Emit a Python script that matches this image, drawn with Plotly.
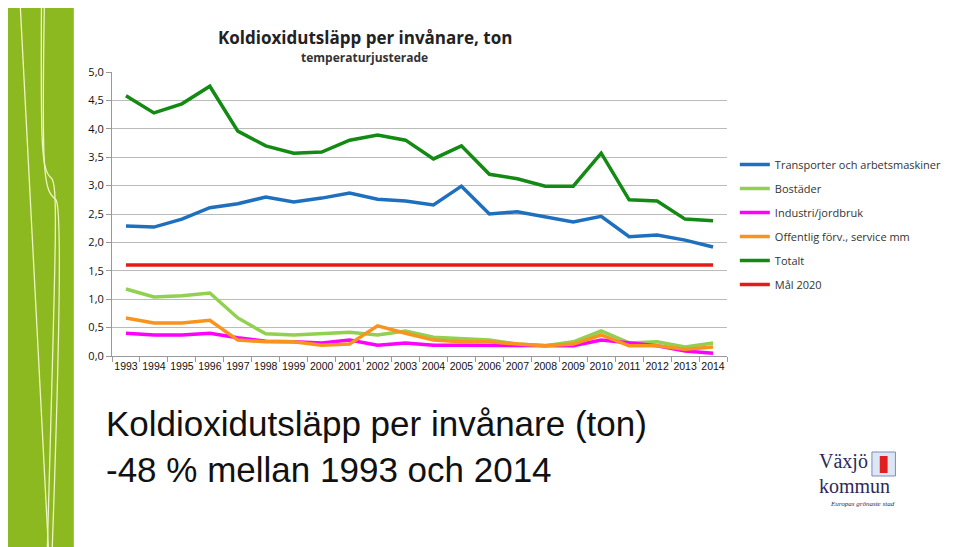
import plotly.graph_objects as go

years = [str(y) for y in range(1993, 2015)]
transport = [2.29,2.27,2.41,2.61,2.68,2.80,2.71,2.78,2.87,2.76,2.73,2.66,2.99,2.50,2.54,2.45,2.36,2.46,2.10,2.13,2.04,1.92]
bostader = [1.18,1.04,1.06,1.11,0.67,0.39,0.37,0.40,0.42,0.37,0.44,0.33,0.30,0.28,0.21,0.18,0.25,0.44,0.23,0.25,0.16,0.23]
industri = [0.40,0.37,0.37,0.40,0.32,0.26,0.25,0.23,0.28,0.19,0.23,0.19,0.19,0.19,0.18,0.18,0.18,0.28,0.23,0.18,0.09,0.05]
offentlig = [0.67,0.58,0.58,0.63,0.28,0.25,0.25,0.19,0.21,0.53,0.40,0.28,0.25,0.25,0.21,0.18,0.21,0.37,0.18,0.18,0.12,0.16]
totalt = [4.58,4.28,4.44,4.75,3.96,3.70,3.57,3.59,3.80,3.89,3.80,3.47,3.70,3.20,3.12,2.99,2.99,3.57,2.75,2.73,2.41,2.38]
mal2020 = [1.6]*len(years)

series = [
    ("Transporter och arbetsmaskiner", transport, "#1f6fbf"),
    ("Bostäder", bostader, "#92d050"),
    ("Industri/jordbruk", industri, "#ff00ff"),
    ("Offentlig förv., service mm", offentlig, "#f7941d"),
    ("Totalt", totalt, "#138a13"),
    ("Mål 2020", mal2020, "#e41b17"),
]

OFF = 8  # page body offset
L, R, T, B = 112, 740, 72, 356
W, H = 959 - OFF, 547 - OFF
def px(x): return (x - L) / (R - L)
def py(y): return (B - y) / (B - T)

fig = go.Figure()
for i, (name, vals, col) in enumerate(series):
    fig.add_trace(go.Scatter(x=years, y=vals, name=name, mode="lines", legendgroup=f"g{i}",
                             line=dict(color=col, width=3.5)))

fig.update_layout(
    width=W, height=H, paper_bgcolor="white", plot_bgcolor="white",
    margin=dict(l=L - OFF, r=W - (R - OFF), t=T - OFF, b=H - (B - OFF), pad=0),
    font=dict(family="Open Sans", color="#222"),
    showlegend=True,
    legend=dict(x=px(748), y=py(150), xanchor="left", yanchor="top", tracegroupgap=5,
                font=dict(size=11, color="#333"), itemwidth=30),
    xaxis=dict(type="category", range=[-0.5, len(years) - 0.5], showgrid=False,
               showline=True, linecolor="#999",
               ticks="outside", tickcolor="#999", tickangle=0,
               tickfont=dict(size=10.5, color="#111", family="Liberation Sans"),
               tickson="boundaries"),
    yaxis=dict(range=[0, 5], dtick=0.5, tickformat=".1f", showgrid=True,
               gridcolor="#bbb", showline=True, linecolor="#999", ticks="outside",
               tickcolor="#999", tickfont=dict(size=11, color="#111")),
    separators=", ",
)
# green decorative panel
fig.add_shape(type="rect", xref="paper", yref="paper", x0=px(0), x1=px(73),
              y0=py(547), y1=py(0), fillcolor="#8cb820", line_width=0, layer="below")
def P(x, y): return f"{px(x):.5f},{py(y):.5f}"
paths = [
    f"M {P(18,0)} L {P(47,547)}",
    f"M {P(40,0)} C {P(39,150)}, {P(40,170)}, {P(50,178)} C {P(57,185)}, {P(55,230)}, {P(46,547)}",
    f"M {P(43,0)} C {P(40,180)}, {P(42,190)}, {P(55,200)} C {P(60,210)}, {P(60,300)}, {P(51,547)}",
]
for p in paths:
    fig.add_shape(type="path", xref="paper", yref="paper", path=p,
                  line=dict(color="#eef5c0", width=1.3))

fig.add_annotation(text="<b>Koldioxidutsläpp per invånare, ton</b>", xref="paper", yref="paper",
                   x=px(370), y=py(24), showarrow=False, font=dict(size=17, color="#222", family="Open Sans"))
fig.add_annotation(text="<b>temperaturjusterade</b>", xref="paper", yref="paper",
                   x=px(370), y=py(47), showarrow=False, font=dict(size=12, color="#333"))
fig.add_annotation(text="Koldioxidutsläpp per invånare (ton)<br>-48 % mellan 1993 och 2014",
                   xref="paper", yref="paper", x=px(104), y=py(402), xanchor="left", yanchor="top",
                   align="left", showarrow=False,
                   font=dict(size=35, color="#111", family="Liberation Sans"))
fig.add_annotation(text="Växjö", xref="paper", yref="paper", x=px(832), y=py(461),
                   xanchor="left", yanchor="middle", showarrow=False,
                   font=dict(size=20, color="#2a2a5a", family="Liberation Serif"))
fig.add_annotation(text="kommun", xref="paper", yref="paper", x=px(832), y=py(486),
                   xanchor="left", yanchor="middle", showarrow=False,
                   font=dict(size=20, color="#2a2a5a", family="Liberation Serif"))
fig.add_annotation(text="<i>Europas grönaste stad</i>", xref="paper", yref="paper", x=px(843), y=py(504),
                   xanchor="left", yanchor="middle", showarrow=False,
                   font=dict(size=7, color="#2a2a5a", family="Liberation Serif"))
fig.add_shape(type="rect", xref="paper", yref="paper", x0=px(888), x1=px(912), y0=py(476), y1=py(452),
              fillcolor="#dde6f4", line=dict(color="#7a8fb5", width=1))
fig.add_shape(type="rect", xref="paper", yref="paper", x0=px(896), x1=px(904), y0=py(473), y1=py(456),
              fillcolor="#e02020", line_width=0)
fig.write_html("out.html")
